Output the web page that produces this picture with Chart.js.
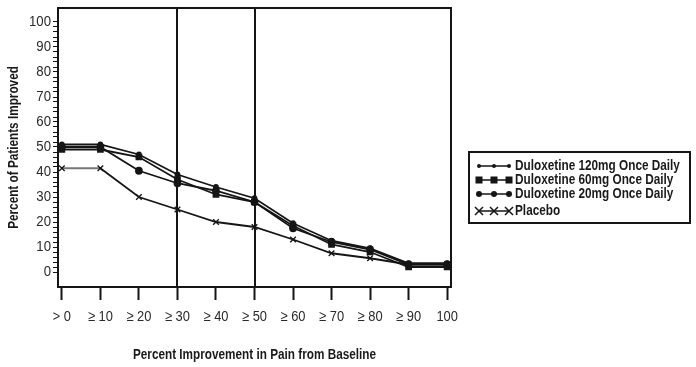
<!DOCTYPE html>
<html>
<head>
<meta charset="utf-8">
<script src="https://cdn.jsdelivr.net/npm/chart.js@4/dist/chart.umd.min.js"></script>
<style>
html,body{margin:0;padding:0;background:#fff;}
#wrap{width:696px;height:367px;position:relative;}
</style>
</head>
<body>
<div id="wrap"><canvas id="chart"></canvas></div>
<script>
// ------------------ DATA ------------------
const xLabels = ["> 0","≥ 10","≥ 20","≥ 30","≥ 40","≥ 50","≥ 60","≥ 70","≥ 80","≥ 90","100"];
const yMajorTicks = [0,10,20,30,40,50,60,70,80,90,100];

const dulox120 = [51, 51, 47, 39, 34, 29.5, 19.5, 12.5, 9.5, 3.5, 3.5];
const dulox60  = [49, 49, 46, 37, 31, 28, 18.5, 11, 8, 2, 2];
const dulox20  = [50, 50, 40.5, 35.5, 32.5, 28, 17.5, 12, 9, 3, 3];
const placebo  = [41.5, 41.5, 30, 25, 20, 18, 13, 7.5, 5.5, 3, 3];

const seriesNames = [
    "Duloxetine 120mg Once Daily",
    "Duloxetine 60mg Once Daily",
    "Duloxetine 20mg Once Daily",
    "Placebo"
];

const xTitle = "Percent Improvement in Pain from Baseline";
const yTitle = "Percent of Patients Improved";

// vertical reference lines at ≥30 and ≥50 (category index)
const refLines = [3, 5];

// ------------------ STYLE ------------------
const FONT = "'Liberation Sans',Arial,sans-serif";
const INK = "#151515";

Chart.defaults.font.family = FONT;
Chart.defaults.color = "#2a2a2a";

function pts(arr){
    return arr.map((v,i)=>({x:i, y:v}));
}

// condensed text (the original uses a narrow face)
function narrowText(ctx, text, x, y, font, squeeze, rotate){
    ctx.save();
    ctx.translate(x, y);
    if(rotate) ctx.rotate(-Math.PI/2);
    ctx.scale(squeeze, 1);
    ctx.font = font;
    ctx.fillText(text, 0, 0);
    ctx.restore();
}

// ------------------ PLUGINS ------------------
const frameLines = {
    id: "frameLines",
    beforeDatasetsDraw(chart){
        const {ctx, chartArea:a, scales} = chart;
        ctx.save();
        ctx.strokeStyle = INK;
        ctx.lineWidth = 2;
        ctx.beginPath();
        ctx.moveTo(a.left, a.top);
        ctx.lineTo(a.right, a.top);
        ctx.lineTo(a.right, a.bottom);
        refLines.forEach(v=>{
            const x = Math.round(scales.x.getPixelForValue(v));
            ctx.moveTo(x, a.top);
            ctx.lineTo(x, a.bottom);
        });
        ctx.stroke();
        ctx.restore();
    }
};

const axisText = {
    id: "axisText",
    afterDraw(chart){
        const {ctx, chartArea:a, scales} = chart;
        const tickFont = "15px " + FONT;
        const titleFont = "bold 14px " + FONT;
        ctx.save();
        // tick labels
        ctx.fillStyle = "#2a2a2a";
        ctx.textBaseline = "middle";
        ctx.textAlign = "right";
        yMajorTicks.forEach(v=>{
            narrowText(ctx, String(v), 51, scales.y.getPixelForValue(v), tickFont, 0.88, false);
        });
        ctx.textAlign = "center";
        xLabels.forEach((lab, i)=>{
            narrowText(ctx, lab, scales.x.getPixelForValue(i), 317, tickFont, 0.86, false);
        });
        // axis titles
        ctx.fillStyle = "#1a1a1a";
        narrowText(ctx, xTitle, (a.left + a.right)/2, 355, titleFont, 0.84, false);
        narrowText(ctx, yTitle, 14, (a.top + a.bottom)/2, titleFont, 0.84, true);
        ctx.restore();
    }
};

function marker(ctx, style, r, x, y){
    ctx.beginPath();
    if(style === "rect"){
        ctx.fillRect(x-r, y-r, r*2, r*2);
    } else if(style === "crossRot"){
        ctx.moveTo(x-r, y-r); ctx.lineTo(x+r, y+r);
        ctx.moveTo(x+r, y-r); ctx.lineTo(x-r, y+r);
        ctx.stroke();
    } else {
        ctx.arc(x, y, r, 0, Math.PI*2);
        ctx.fill();
    }
}

const boxLegend = {
    id: "boxLegend",
    afterDraw(chart){
        const ctx = chart.ctx;
        const rows = [166, 180, 194, 211];
        ctx.save();
        ctx.strokeStyle = INK;
        ctx.lineWidth = 2;
        ctx.strokeRect(469, 152, 221, 71);
        chart.data.datasets.forEach((ds, i)=>{
            const y = rows[i];
            ctx.strokeStyle = INK;
            ctx.fillStyle = INK;
            ctx.lineWidth = 1.5;
            ctx.beginPath();
            ctx.moveTo(479, y); ctx.lineTo(509, y);
            ctx.stroke();
            [479, 494, 509].forEach(x=>marker(ctx, ds.pointStyle, ds.pointRadius, x, y));
            ctx.fillStyle = "#1a1a1a";
            ctx.textBaseline = "middle";
            ctx.textAlign = "left";
            narrowText(ctx, ds.label, 515, y, "bold 15px " + FONT, 0.785, false);
        });
        ctx.restore();
    }
};

// ------------------ CHART ------------------
const common = {
    borderColor: INK,
    pointBorderColor: INK,
    pointBackgroundColor: INK,
    borderWidth: 1.8,
    tension: 0
};

new Chart(document.getElementById("chart"), {
    type: "line",
    data: {
        datasets: [
            {...common, label: seriesNames[0], data: pts(dulox120), pointStyle: "circle", pointRadius: 2},
            {...common, label: seriesNames[1], data: pts(dulox60), pointStyle: "rect", pointRadius: 3.5},
            {...common, label: seriesNames[2], data: pts(dulox20), pointStyle: "circle", pointRadius: 3},
            {...common, label: seriesNames[3], data: pts(placebo), pointStyle: "crossRot", pointRadius: 4,
                pointBorderWidth: 1.3,
                segment: {borderColor: c => c.p0DataIndex === 0 ? "#777" : INK}}
        ]
    },
    options: {
        responsive: true,
        maintainAspectRatio: false,
        animation: false,
        layout: {padding: {top: 8, right: 245, left: 0, bottom: 0}},
        plugins: {legend: {display: false}, tooltip: {enabled: false}},
        scales: {
            x: {
                type: "linear",
                min: -0.1,
                max: 10.1,
                afterBuildTicks: s => { s.ticks = xLabels.map((_, i)=>({value: i})); },
                afterFit: s => { s.height = 80; },
                ticks: {display: false},
                grid: {drawOnChartArea: false, drawTicks: true, tickLength: 13, color: INK, tickWidth: 2},
                border: {display: true, color: INK, width: 2}
            },
            y: {
                min: -6,
                max: 105.6,
                afterBuildTicks: s => {
                    const t = [];
                    for(let v = 0; v <= 100; v += 2) t.push({value: v});
                    s.ticks = t;
                },
                afterFit: s => { s.width = 58; },
                ticks: {display: false},
                grid: {drawOnChartArea: false, drawTicks: true, tickLength: 5, color: INK, tickWidth: 1},
                border: {display: true, color: INK, width: 2}
            }
        }
    },
    plugins: [frameLines, axisText, boxLegend]
});
</script>
</body>
</html>
